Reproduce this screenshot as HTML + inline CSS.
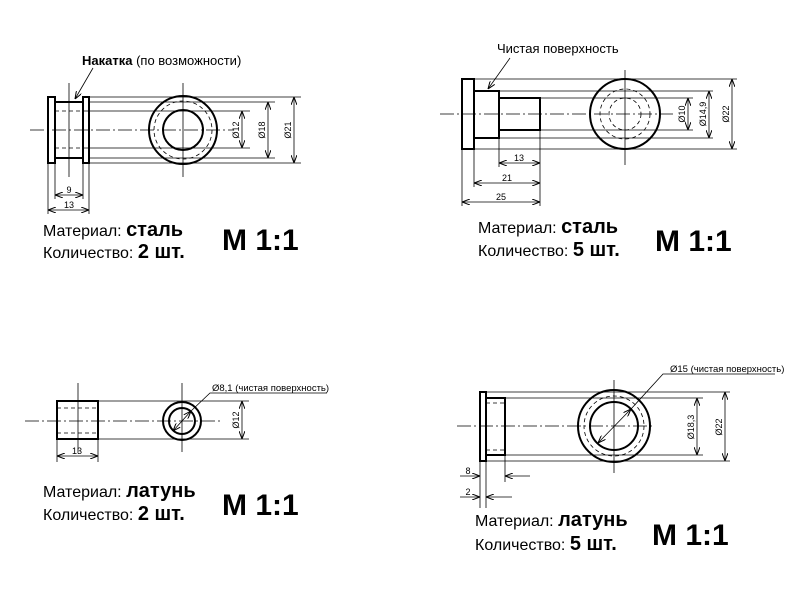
<!DOCTYPE html>
<html><head><meta charset="utf-8"><style>
html,body{margin:0;padding:0;background:#fff;}
svg{display:block;font-family:"Liberation Sans",Arial,sans-serif;}
.t{stroke:#000;stroke-width:2;fill:none}
.n{stroke:#000;stroke-width:0.8;fill:none}
.d{stroke:#000;stroke-width:0.8;fill:none;stroke-dasharray:4 3}
.c{stroke:#000;stroke-width:0.8;fill:none;stroke-dasharray:14 3 2 3}
.s{font-size:9px}
</style></head><body>
<svg width="800" height="600" viewBox="0 0 800 600" xmlns="http://www.w3.org/2000/svg">
<defs>
<marker id="a" viewBox="0 0 8 6" refX="8" refY="3" markerWidth="8" markerHeight="6" orient="auto-start-reverse" markerUnits="userSpaceOnUse">
<path d="M0,0 L8,3 L0,6" fill="none" stroke="#000" stroke-width="1"/></marker>
</defs>

<!-- Q1 -->
<text x="82" y="65" font-size="13"><tspan font-weight="bold">Накатка</tspan> (по возможности)</text>
<line class="n" x1="93" y1="68" x2="75" y2="99" marker-end="url(#a)"/>
<line class="c" x1="30" y1="130" x2="234" y2="130"/>
<line class="n" x1="69" y1="83" x2="69" y2="177"/>
<line class="n" x1="183" y1="83" x2="183" y2="177"/>
<rect class="t" x="48" y="97" width="7" height="66"/>
<rect class="t" x="83" y="97" width="6" height="66"/>
<line class="t" x1="55" y1="102" x2="83" y2="102"/>
<line class="t" x1="55" y1="158" x2="83" y2="158"/>
<line class="d" x1="55" y1="111" x2="83" y2="111"/>
<line class="d" x1="55" y1="148" x2="83" y2="148"/>
<circle class="t" cx="183" cy="130" r="34"/>
<circle class="d" cx="183" cy="130" r="29"/>
<circle class="t" cx="183" cy="130" r="20"/>
<line class="n" x1="89" y1="97" x2="301" y2="97"/>
<line class="n" x1="89" y1="163" x2="301" y2="163"/>
<line class="n" x1="89" y1="102" x2="275" y2="102"/>
<line class="n" x1="89" y1="158" x2="275" y2="158"/>
<line class="n" x1="83" y1="111" x2="250" y2="111"/>
<line class="n" x1="83" y1="148" x2="250" y2="148"/>
<line class="n" x1="242" y1="111" x2="242" y2="148" marker-start="url(#a)" marker-end="url(#a)"/>
<line class="n" x1="268" y1="102" x2="268" y2="158" marker-start="url(#a)" marker-end="url(#a)"/>
<line class="n" x1="294" y1="97" x2="294" y2="163" marker-start="url(#a)" marker-end="url(#a)"/>
<text class="s" transform="translate(239,130) rotate(-90)" text-anchor="middle">Ø12</text>
<text class="s" transform="translate(265,130) rotate(-90)" text-anchor="middle">Ø18</text>
<text class="s" transform="translate(291,130) rotate(-90)" text-anchor="middle">Ø21</text>
<line class="n" x1="48" y1="163" x2="48" y2="214"/>
<line class="n" x1="89" y1="163" x2="89" y2="214"/>
<line class="n" x1="55" y1="163" x2="55" y2="199"/>
<line class="n" x1="83" y1="163" x2="83" y2="199"/>
<line class="n" x1="55" y1="195" x2="83" y2="195" marker-start="url(#a)" marker-end="url(#a)"/>
<line class="n" x1="48" y1="210" x2="89" y2="210" marker-start="url(#a)" marker-end="url(#a)"/>
<text class="s" x="69" y="193" text-anchor="middle">9</text>
<text class="s" x="69" y="208" text-anchor="middle">13</text>
<text x="43" y="236" font-size="16">Материал: <tspan font-weight="bold" font-size="20">сталь</tspan></text>
<text x="43" y="258" font-size="16">Количество: <tspan font-weight="bold" font-size="20">2 шт.</tspan></text>
<text x="222" y="250" font-size="30" font-weight="bold">M 1:1</text>

<!-- Q2 -->
<text x="497" y="53" font-size="13">Чистая поверхность</text>
<line class="n" x1="510" y1="58" x2="488" y2="89" marker-end="url(#a)"/>
<line class="c" x1="440" y1="114" x2="673" y2="114"/>
<line class="n" x1="625" y1="70" x2="625" y2="165"/>
<rect class="t" x="462" y="79" width="12" height="70"/>
<rect class="t" x="474" y="91" width="25" height="47"/>
<rect class="t" x="499" y="98" width="41" height="32"/>
<circle class="t" cx="625" cy="114" r="35"/>
<circle class="d" cx="625" cy="114" r="25"/>
<circle class="d" cx="625" cy="114" r="16"/>
<line class="n" x1="474" y1="79" x2="737" y2="79"/>
<line class="n" x1="474" y1="149" x2="737" y2="149"/>
<line class="n" x1="499" y1="91" x2="713" y2="91"/>
<line class="n" x1="499" y1="138" x2="713" y2="138"/>
<line class="n" x1="540" y1="98" x2="693" y2="98"/>
<line class="n" x1="540" y1="130" x2="693" y2="130"/>
<line class="n" x1="688" y1="98" x2="688" y2="130" marker-start="url(#a)" marker-end="url(#a)"/>
<line class="n" x1="709" y1="91" x2="709" y2="138" marker-start="url(#a)" marker-end="url(#a)"/>
<line class="n" x1="732" y1="79" x2="732" y2="149" marker-start="url(#a)" marker-end="url(#a)"/>
<text class="s" transform="translate(685,114) rotate(-90)" text-anchor="middle">Ø10</text>
<text class="s" transform="translate(706,114) rotate(-90)" text-anchor="middle">Ø14,9</text>
<text class="s" transform="translate(729,114) rotate(-90)" text-anchor="middle">Ø22</text>
<line class="n" x1="462" y1="149" x2="462" y2="206"/>
<line class="n" x1="474" y1="149" x2="474" y2="187"/>
<line class="n" x1="499" y1="138" x2="499" y2="167"/>
<line class="n" x1="540" y1="130" x2="540" y2="206"/>
<line class="n" x1="499" y1="163" x2="540" y2="163" marker-start="url(#a)" marker-end="url(#a)"/>
<line class="n" x1="474" y1="183" x2="540" y2="183" marker-start="url(#a)" marker-end="url(#a)"/>
<line class="n" x1="462" y1="202" x2="540" y2="202" marker-start="url(#a)" marker-end="url(#a)"/>
<text class="s" x="519" y="161" text-anchor="middle">13</text>
<text class="s" x="507" y="181" text-anchor="middle">21</text>
<text class="s" x="501" y="200" text-anchor="middle">25</text>
<text x="478" y="233" font-size="16">Материал: <tspan font-weight="bold" font-size="20">сталь</tspan></text>
<text x="478" y="256" font-size="16">Количество: <tspan font-weight="bold" font-size="20">5 шт.</tspan></text>
<text x="655" y="251" font-size="30" font-weight="bold">M 1:1</text>

<!-- Q3 -->
<line class="c" x1="25" y1="421" x2="223" y2="421"/>
<line class="n" x1="78" y1="383" x2="78" y2="452"/>
<line class="n" x1="182" y1="383" x2="182" y2="452"/>
<rect class="t" x="57" y="401" width="41" height="38"/>
<line class="d" x1="57" y1="408" x2="98" y2="408"/>
<line class="d" x1="57" y1="433" x2="98" y2="433"/>
<circle class="t" cx="182" cy="421" r="19"/>
<circle class="t" cx="182" cy="421" r="13"/>
<line class="n" x1="98" y1="401" x2="249" y2="401"/>
<line class="n" x1="98" y1="439" x2="249" y2="439"/>
<line class="n" x1="242" y1="401" x2="242" y2="439" marker-start="url(#a)" marker-end="url(#a)"/>
<text class="s" transform="translate(239,420) rotate(-90)" text-anchor="middle">Ø12</text>
<line class="n" x1="173" y1="431" x2="191" y2="411" marker-start="url(#a)" marker-end="url(#a)"/>
<polyline class="n" points="191,411 210,393 327,393"/>
<text x="212" y="391" font-size="9.5">Ø8,1 (чистая поверхность)</text>
<line class="n" x1="57" y1="439" x2="57" y2="462"/>
<line class="n" x1="98" y1="439" x2="98" y2="462"/>
<line class="n" x1="57" y1="456" x2="98" y2="456" marker-start="url(#a)" marker-end="url(#a)"/>
<text class="s" x="77" y="454" text-anchor="middle">13</text>
<text x="43" y="497" font-size="16">Материал: <tspan font-weight="bold" font-size="20">латунь</tspan></text>
<text x="43" y="520" font-size="16">Количество: <tspan font-weight="bold" font-size="20">2 шт.</tspan></text>
<text x="222" y="515" font-size="30" font-weight="bold">M 1:1</text>

<!-- Q4 -->
<line class="c" x1="457" y1="426" x2="655" y2="426"/>
<line class="n" x1="614" y1="380" x2="614" y2="473"/>
<rect class="t" x="480" y="392" width="6" height="69"/>
<rect class="t" x="486" y="398" width="19" height="57"/>
<line class="d" x1="486" y1="403" x2="505" y2="403"/>
<line class="d" x1="486" y1="450" x2="505" y2="450"/>
<circle class="t" cx="614" cy="426" r="36"/>
<circle class="d" cx="614" cy="426" r="30"/>
<circle class="t" cx="614" cy="426" r="24"/>
<line class="n" x1="486" y1="392" x2="730" y2="392"/>
<line class="n" x1="486" y1="461" x2="730" y2="461"/>
<line class="n" x1="505" y1="398" x2="703" y2="398"/>
<line class="n" x1="505" y1="455" x2="703" y2="455"/>
<line class="n" x1="697" y1="398" x2="697" y2="455" marker-start="url(#a)" marker-end="url(#a)"/>
<line class="n" x1="725" y1="392" x2="725" y2="461" marker-start="url(#a)" marker-end="url(#a)"/>
<text class="s" transform="translate(694,427) rotate(-90)" text-anchor="middle">Ø18,3</text>
<text class="s" transform="translate(722,427) rotate(-90)" text-anchor="middle">Ø22</text>
<line class="n" x1="598" y1="443" x2="631" y2="409" marker-start="url(#a)" marker-end="url(#a)"/>
<polyline class="n" points="631,409 663,374 775,374"/>
<text x="670" y="372" font-size="9.5">Ø15 (чистая поверхность)</text>
<line class="n" x1="480" y1="461" x2="480" y2="508"/>
<line class="n" x1="486" y1="461" x2="486" y2="508"/>
<line class="n" x1="505" y1="455" x2="505" y2="482"/>
<line class="n" x1="460" y1="476" x2="480" y2="476" marker-end="url(#a)"/>
<line class="n" x1="530" y1="476" x2="505" y2="476" marker-end="url(#a)"/>
<line class="n" x1="460" y1="497" x2="480" y2="497" marker-end="url(#a)"/>
<line class="n" x1="512" y1="497" x2="486" y2="497" marker-end="url(#a)"/>
<text class="s" x="468" y="474" text-anchor="middle">8</text>
<text class="s" x="468" y="495" text-anchor="middle">2</text>
<text x="475" y="526" font-size="16">Материал: <tspan font-weight="bold" font-size="20">латунь</tspan></text>
<text x="475" y="550" font-size="16">Количество: <tspan font-weight="bold" font-size="20">5 шт.</tspan></text>
<text x="652" y="545" font-size="30" font-weight="bold">M 1:1</text>
</svg>
</body></html>
